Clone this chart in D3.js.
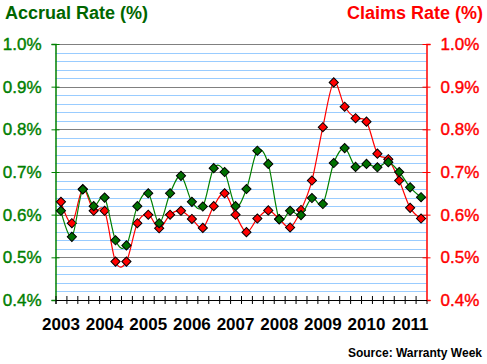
<!DOCTYPE html>
<html>
<head>
<meta charset="utf-8">
<script src="https://cdn.jsdelivr.net/npm/d3@7"></script>
<style>
body { margin: 0; background: #fff; }
svg { display: block; font-family: "Liberation Sans", Arial, sans-serif; }
</style>
</head>
<body>
<div id="chart"></div>
<script>
// quarterly data, 2003 Q1 .. 2011 Q2
var years = ["2003", "2004", "2005", "2006", "2007", "2008", "2009", "2010", "2011"];
var accrualRate = [0.609, 0.548, 0.659, 0.620, 0.640, 0.540, 0.528, 0.620, 0.650,
	0.580, 0.650, 0.691, 0.630, 0.619, 0.709, 0.700, 0.620,
	0.660, 0.750, 0.719, 0.589, 0.609, 0.599, 0.639, 0.625, 0.721,
	0.756, 0.712, 0.719, 0.711, 0.723, 0.700, 0.664, 0.641];
var claimsRate = [0.630, 0.580, 0.660, 0.609, 0.609, 0.490, 0.490, 0.580, 0.600,
	0.568, 0.600, 0.609, 0.590, 0.569, 0.620, 0.650, 0.600,
	0.559, 0.591, 0.610, 0.590, 0.570, 0.611, 0.680, 0.805, 0.910,
	0.853, 0.826, 0.818, 0.743, 0.730, 0.680, 0.616, 0.591];
var rateTicks = [0.4, 0.5, 0.6, 0.7, 0.8, 0.9, 1.0];
var minorTicks = d3.range(0.42, 1.0, 0.02);

var chartWidth = 487, chartHeight = 364;
var plotLeft = 55.5, plotRight = 426.5, plotTop = 44, plotBottom = 300;

var svg = d3.select("#chart").append("svg")
	.attr("width", chartWidth).attr("height", chartHeight);

var x = d3.scaleLinear().domain([0, accrualRate.length]).range([plotLeft, plotRight]);
var y = d3.scaleLinear().domain([0.4, 1.0]).range([plotBottom, plotTop]);

// grid
svg.append("g").selectAll("line").data(minorTicks).enter().append("line")
	.attr("x1", plotLeft).attr("x2", plotRight)
	.attr("y1", function(d) { return Math.round(y(d)) + 0.5; })
	.attr("y2", function(d) { return Math.round(y(d)) + 0.5; })
	.attr("stroke", "#99ccff").attr("stroke-width", 1);
svg.append("g").selectAll("line").data(rateTicks.slice(1)).enter().append("line")
	.attr("x1", plotLeft).attr("x2", plotRight)
	.attr("y1", function(d) { return Math.round(y(d)) + 0.5; })
	.attr("y2", function(d) { return Math.round(y(d)) + 0.5; })
	.attr("stroke", "#808080").attr("stroke-width", 1);

function fmt(d) { return d.toFixed(1) + "%"; }

// left axis
var leftAxis = svg.append("g").attr("transform", "translate(" + plotLeft + ",0)")
	.call(d3.axisLeft(y).tickValues(rateTicks).tickSize(4).tickPadding(10).tickFormat(fmt));
leftAxis.select(".domain").attr("stroke", "#008000").attr("stroke-width", 1.5);
leftAxis.selectAll(".tick line").attr("x1", 4).attr("stroke", "#008000");
leftAxis.selectAll("text").attr("fill", "#008000").attr("font-size", 17)
	.attr("stroke", "#008000").attr("stroke-width", 0.4)
	.attr("font-family", "Liberation Sans, Arial, sans-serif");

// right axis
var rightAxis = svg.append("g").attr("transform", "translate(" + plotRight + ",0)")
	.call(d3.axisRight(y).tickValues(rateTicks).tickSize(4).tickPadding(10).tickFormat(fmt));
rightAxis.select(".domain").attr("stroke", "#ff0000").attr("stroke-width", 1.5);
rightAxis.selectAll(".tick line").attr("x1", -4).attr("stroke", "#ff0000");
rightAxis.selectAll("text").attr("fill", "#ff0000").attr("font-size", 17)
	.attr("stroke", "#ff0000").attr("stroke-width", 0.4)
	.attr("font-family", "Liberation Sans, Arial, sans-serif");

// bottom axis
var bottomAxis = svg.append("g").attr("transform", "translate(0," + plotBottom + ")")
	.call(d3.axisBottom(x).tickValues(d3.range(0, accrualRate.length)).tickSize(4).tickFormat(""));
bottomAxis.select(".domain").attr("stroke", "#000");
bottomAxis.selectAll(".tick line").attr("y1", -4).attr("stroke", "#000");

// year labels
svg.append("g").selectAll("text").data(years).enter().append("text")
	.attr("x", function(d, i) { return x(i * 4 + 0.5); })
	.attr("y", 329.5)
	.attr("text-anchor", "middle")
	.attr("font-size", 17).attr("font-weight", "bold").attr("fill", "#000")
	.text(function(d) { return d; });

// series
var line = d3.line()
	.x(function(d, i) { return x(i + 0.5); })
	.y(function(d) { return y(d); })
	.curve(d3.curveCardinal);

var diamond = d3.symbol().type(d3.symbolSquare).size(42);

function drawSeries(data, lineColor, fillColor) {
	svg.append("path").datum(data)
		.attr("d", line).attr("fill", "none")
		.attr("stroke", lineColor).attr("stroke-width", 1.2);
	svg.append("g").selectAll("path").data(data).enter().append("path")
		.attr("d", diamond)
		.attr("transform", function(d, i) {
			return "translate(" + x(i + 0.5) + "," + y(d) + ") rotate(45)";
		})
		.attr("fill", fillColor).attr("stroke", "#000").attr("stroke-width", 1);
}

drawSeries(claimsRate, "#ff0000", "#ff0000");
drawSeries(accrualRate, "#008000", "#007000");

// titles
svg.append("text").attr("x", 5).attr("y", 19)
	.attr("font-size", 18).attr("font-weight", "bold").attr("fill", "#006600")
	.text("Accrual Rate (%)");
svg.append("text").attr("x", 483).attr("y", 19).attr("text-anchor", "end")
	.attr("font-size", 18).attr("font-weight", "bold").attr("fill", "#ff0000")
	.text("Claims Rate (%)");
svg.append("text").attr("x", 482).attr("y", 357).attr("text-anchor", "end")
	.attr("font-size", 12).attr("font-weight", "bold").attr("fill", "#000")
	.text("Source: Warranty Week");
</script>
</body>
</html>
